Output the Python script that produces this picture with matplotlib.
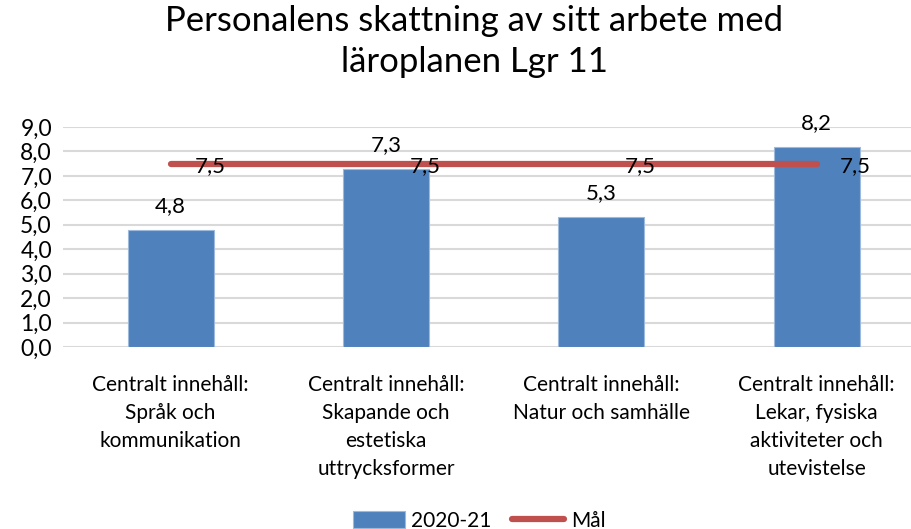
import matplotlib.pyplot as plt
from matplotlib.ticker import FuncFormatter

plt.rcParams['font.family'] = ['Lato', 'DejaVu Sans']

categories = ['Centralt innehåll:\nSpråk och\nkommunikation',
              'Centralt innehåll:\nSkapande och\nestetiska\nuttrycksformer',
              'Centralt innehåll:\nNatur och samhälle',
              'Centralt innehåll:\nLekar, fysiska\naktiviteter och\nutevistelse']
values = [4.8, 7.3, 5.3, 8.2]
goal = [7.5, 7.5, 7.5, 7.5]

blue = '#4F81BD'
red = '#C0504D'

fig = plt.figure(figsize=(9.12, 5.29), dpi=100)
ax = fig.add_axes([63 / 912, 1 - 347 / 529, (912 - 63) / 912, 220 / 529])

x = range(len(categories))
bars = ax.bar(x, values, width=0.4, color=blue, edgecolor='#9DB9DB', linewidth=0.8,
              label='2020-21', zorder=2)
line, = ax.plot(x, goal, color=red, linewidth=4.5, solid_capstyle='round',
                label='Mål', zorder=3)

for i, v in enumerate(values):
    ax.annotate(f'{v:.1f}'.replace('.', ','), (i, v), xytext=(0, 10),
                textcoords='offset points', ha='center', va='bottom', fontsize=16)
for i, g in enumerate(goal):
    ax.annotate(f'{g:.1f}'.replace('.', ','), (i, g), xytext=(17, -2),
                textcoords='offset points', ha='left', va='center', fontsize=16)

ax.set_ylim(0, 9)
ax.set_yticks(range(10))
ax.yaxis.set_major_formatter(FuncFormatter(lambda v, p: f'{v:.1f}'.replace('.', ',')))
ax.set_xlim(-0.5, 3.443)
ax.set_xticks(list(x))
ax.set_xticklabels(categories, fontsize=15, linespacing=1.5)
ax.tick_params(axis='y', labelsize=16.5, length=0, pad=8)
ax.tick_params(axis='x', length=0, pad=20)
ax.grid(axis='y', color='#D9D9D9', linewidth=1.5, zorder=0)
for s in ax.spines.values():
    s.set_visible(False)

fig.suptitle('Personalens skattning av sitt arbete med\nläroplanen Lgr 11',
             fontsize=25, x=0.52, y=0.99, linespacing=1.35)

ax.legend([bars, line], ['2020-21', 'Mål'], loc='lower center',
          bbox_to_anchor=(0.49, -0.92), ncol=2, frameon=False,
          fontsize=15, handlelength=2.5, handleheight=0.9, columnspacing=1.0,
          handletextpad=0.3)

fig.savefig('out.png', dpi=100)
